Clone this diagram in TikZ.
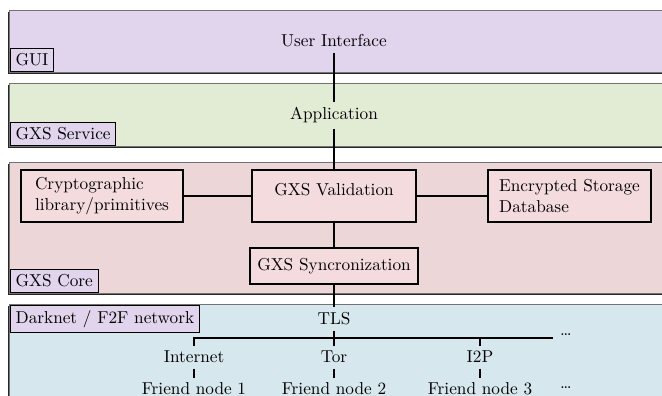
\documentclass[tikz,border=0pt]{standalone}
\definecolor{guicol}{RGB}{225,212,237}
\definecolor{servcol}{RGB}{226,236,213}
\definecolor{corecol}{RGB}{236,214,216}
\definecolor{netcol}{RGB}{214,231,237}
\definecolor{boxcol}{RGB}{244,219,222}
\definecolor{labcol}{RGB}{225,212,237}
\tikzset{
  layer/.style={fill=#1, draw=black!55, line width=0.5pt},
  layershadow/.style={fill=black!85},
  labbox/.style={draw=black, fill=labcol, line width=0.5pt, inner xsep=3pt, inner ysep=2.8pt},
  cbox/.style={draw=black, fill=boxcol, line width=0.9pt},
  conn/.style={line width=0.9pt},
  txt/.style={inner sep=3pt},
}
\begin{document}
\begin{tikzpicture}[x=0.58pt,y=-0.58pt]
\useasboundingbox (0,0) rectangle (662,396);
% layers
\fill[layershadow] (7.8,12) rectangle (675,74);
\draw[layer=guicol] (9,10) rectangle (675,72);
\fill[layershadow] (7.8,85) rectangle (675,148);
\draw[layer=servcol] (9,83) rectangle (675,146);
\fill[layershadow] (7.8,164) rectangle (675,295);
\draw[layer=corecol] (9,162) rectangle (675,293);
\fill[layershadow] (7.8,306) rectangle (675,420);
\draw[layer=netcol] (9,304) rectangle (675,420);
% layer labels
\node[labbox, anchor=south west] (lgui) at (10,71.5) {GUI};
\node[labbox, anchor=south west] (lserv) at (10,145.5) {GXS Service};
\node[labbox, anchor=south west] (lcore) at (10,292.5) {GXS Core};
\node[labbox, anchor=north west] (lnet) at (10,305) {Darknet / F2F network};
% nodes
\node[txt, anchor=base] (ui) at (334,47) {User Interface};
\node[txt, anchor=base] (app) at (334,120) {Application};
\node[cbox, minimum width=94pt, minimum height=30.2pt, align=left] (crypt) at (102,196) {Cryptographic\\library/primitives};
\node[cbox, minimum width=95pt, inner sep=3pt, text height=12pt, text depth=12pt] (val) at (334,196) {GXS Validation};
\node[cbox, minimum width=94.5pt, minimum height=30.2pt, align=left] (enc) at (569.5,196) {Encrypted Storage\\Database};
\node[cbox, minimum width=97.4pt, minimum height=20.9pt] (sync) at (334,266) {GXS Syncronization};
\node[txt, anchor=base] (tls) at (334,325) {TLS};
\node[txt, anchor=base] (inet) at (194,363) {Internet};
\node[txt, anchor=base] (tor) at (334,363) {Tor};
\node[txt, anchor=base] (i2p) at (480,363) {I2P};
\node[txt, anchor=base] (f1) at (194,395) {Friend node 1};
\node[txt, anchor=base] (f2) at (334,395) {Friend node 2};
\node[txt, anchor=base] (f3) at (480,395) {Friend node 3};
\node[txt] (dotsa) at (566,335) {\dots};
\node[txt] (dotsb) at (566,388) {\dots};
% bus coordinates
\coordinate (busl) at (194,338);
\coordinate (busm) at (334,338);
\coordinate (busi) at (480,338);
\coordinate (busr) at (553,338);
% connectors
\draw[conn] (ui) -- (app);
\draw[conn] (app) -- (val);
\draw[conn] (crypt) -- (val);
\draw[conn] (val) -- (enc);
\draw[conn] (val) -- (sync);
\draw[conn] (sync) -- (tls);
\draw[conn] (tls) -- (tor);
\draw[conn] (inet.north) -- (busl) -- (busr);
\draw[conn] (busi) -- (i2p.north);
\draw[conn] (inet.south) -- (f1.north);
\draw[conn] (tor.south) -- (f2.north);
\draw[conn] (i2p.south) -- (f3.north);
\end{tikzpicture}
\end{document}
